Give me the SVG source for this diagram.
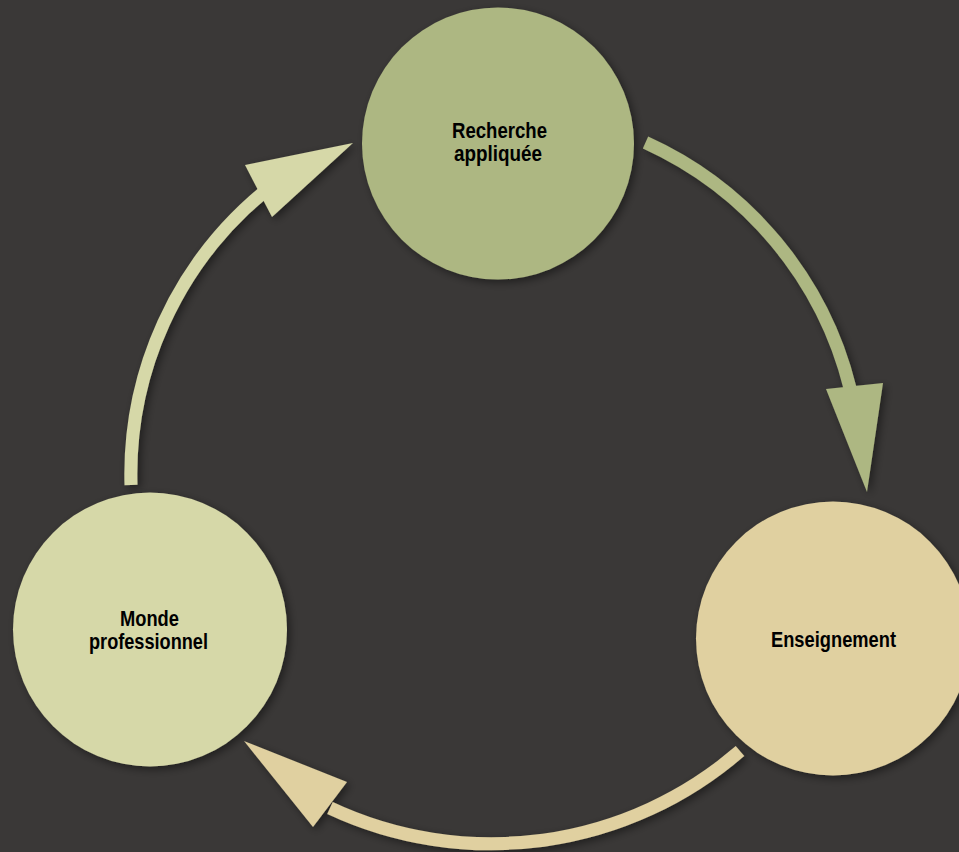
<svg xmlns="http://www.w3.org/2000/svg" width="959" height="852" viewBox="0 0 959 852">
<defs>
<filter id="sh" x="-20%" y="-20%" width="140%" height="140%">
<feDropShadow dx="3" dy="3" stdDeviation="4" flood-color="#000" flood-opacity="0.45"/>
</filter>
</defs>
<style>
.lbl{font-family:"Liberation Sans",Arial,sans-serif;font-weight:bold;font-size:22.5px;fill:#000;text-anchor:start}
.shaft{fill:none;stroke-width:13;stroke-linecap:butt}
</style>
<rect width="959" height="852" fill="#3a3837"/>
<g id="connectors" filter="url(#sh)">
<g id="arrow-recherche-enseignement">
<path class="shaft" stroke="#adb782" d="M645.5,142.5 A366,366 0 0 1 850,388"/>
<polygon fill="#adb782" points="826,389 883,383 867,492"/>
</g>
<g id="arrow-enseignement-monde">
<path class="shaft" stroke="#e0d0a0" d="M740,751 A380,380 0 0 1 330,808"/>
<polygon fill="#e0d0a0" points="347,782 244,741 313,827"/>
</g>
<g id="arrow-monde-recherche">
<path class="shaft" stroke="#d6d8a8" d="M131,485 A366,366 0 0 1 264,192"/>
<polygon fill="#d6d8a8" points="245,165 353,143 272,217"/>
</g>
</g>
<g id="node-recherche">
<circle cx="498" cy="143.5" r="136" fill="#adb782" filter="url(#sh)"/>
<text class="lbl" x="452" y="138" textLength="95" lengthAdjust="spacingAndGlyphs">Recherche</text>
<text class="lbl" x="454" y="161" textLength="88" lengthAdjust="spacingAndGlyphs">appliquée</text>
</g>
<g id="node-monde">
<circle cx="150" cy="629.5" r="137" fill="#d6d8a8" filter="url(#sh)"/>
<text class="lbl" x="120" y="626" textLength="59" lengthAdjust="spacingAndGlyphs">Monde</text>
<text class="lbl" x="89" y="649" textLength="119" lengthAdjust="spacingAndGlyphs">professionnel</text>
</g>
<g id="node-enseignement">
<circle cx="833" cy="638.5" r="137" fill="#e0d0a0" filter="url(#sh)"/>
<text class="lbl" x="771" y="647" textLength="125" lengthAdjust="spacingAndGlyphs">Enseignement</text>
</g>
</svg>
